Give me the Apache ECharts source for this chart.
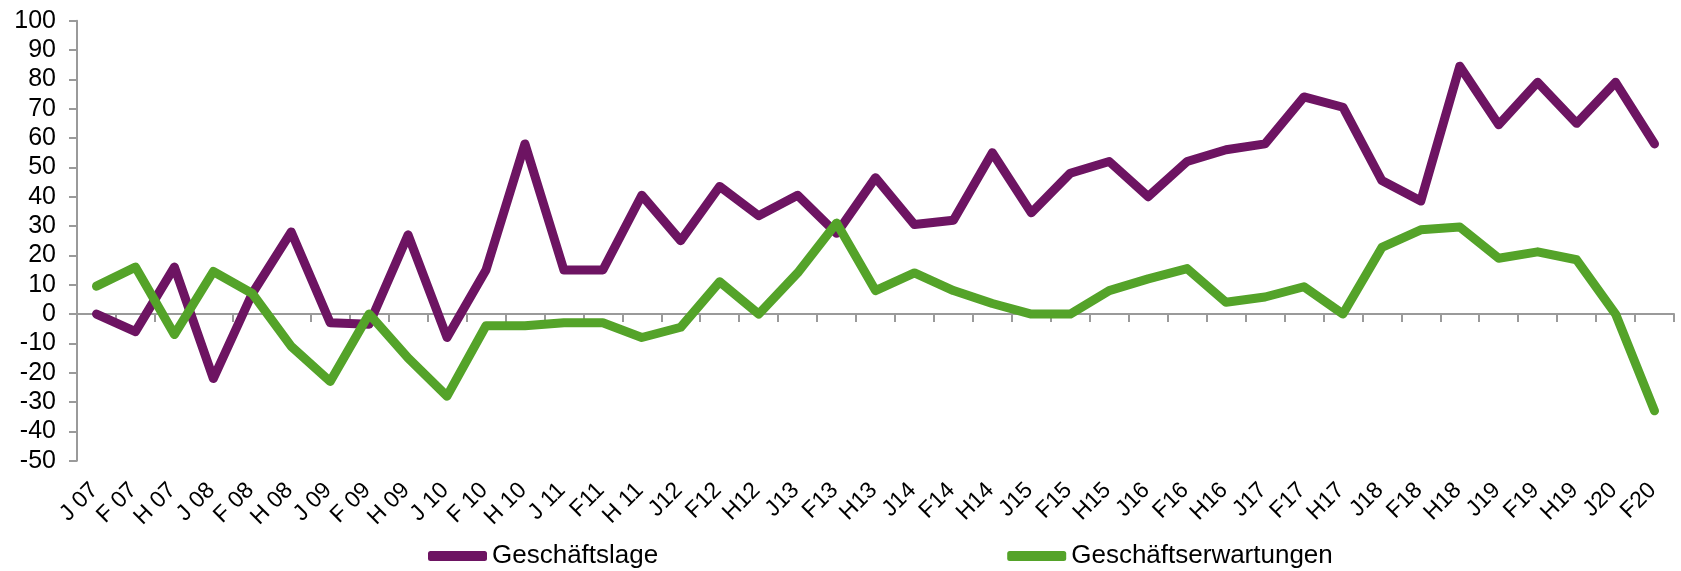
<!DOCTYPE html>
<html>
<head>
<meta charset="utf-8">
<script src="https://cdn.jsdelivr.net/npm/echarts@6/dist/echarts.min.js"></script>
<style>
  html, body { margin: 0; padding: 0; background: #ffffff; }
  #chart { width: 1681px; height: 571px; }
</style>
</head>
<body>
<div id="chart"></div>
<script>
// Survey periods (J = Jahresbeginn, F = Frühjahr, H = Herbst)
const categories = [
  'J 07', 'F 07', 'H 07', 'J 08', 'F 08', 'H 08', 'J 09', 'F 09', 'H 09', 'J 10',
  'F 10', 'H 10', 'J 11', 'F11', 'H 11', 'J12', 'F12', 'H12', 'J13', 'F13',
  'H13', 'J14', 'F14', 'H14', 'J15', 'F15', 'H15', 'J16', 'F16', 'H16',
  'J17', 'F17', 'H17', 'J18', 'F18', 'H18', 'J19', 'F19', 'H19', 'J20', 'F20'
];

// Saldo der Geschäftslage
const geschaeftslage = [
  0, -6, 16, -22, 7, 28, -3, -3.5, 27, -8,
  15, 58, 15, 15, 40.5, 25, 43.5, 33.5, 40.5, 27.5,
  46.5, 30.5, 32, 55, 34.5, 48, 52, 40, 52, 56,
  58, 74, 70.5, 45.5, 38.5, 84.5, 64.5, 79, 65, 79, 58
];

// Saldo der Geschäftserwartungen
const geschaeftserwartungen = [
  9.5, 16, -7, 14.5, 7, -11, -23, 0, -15, -28,
  -4, -4, -3, -3, -8, -4.5, 11, 0, 14, 31,
  8, 14, 8, 3.6, 0, 0, 8, 12, 15.5, 4,
  5.8, 9.3, 0, 22.7, 28.7, 29.7, 19, 21.2, 18.5, 0, -33
];

const yMin = -50, yMax = 100, yStep = 10;

const PURPLE = '#6d1462';
const GREEN = '#54a329';
const AXIS_GREY = '#9a9a9a';
const FONT = '"Liberation Sans", Arial, sans-serif';

// plot area
const PLOT = { left: 77, right: 7, top: 20.7, bottom: 110.3 };
// horizontal nudge of the period labels relative to the tick centres
const LABEL_SHIFT = -2;

const chart = echarts.init(document.getElementById('chart'), null, { renderer: 'canvas' });

chart.setOption({
  animation: false,
  backgroundColor: '#ffffff',
  textStyle: { fontFamily: FONT, color: '#000000' },
  grid: [
    { left: PLOT.left, right: PLOT.right, top: PLOT.top, bottom: PLOT.bottom, containLabel: false },
    { left: PLOT.left + LABEL_SHIFT, right: PLOT.right - LABEL_SHIFT, top: PLOT.top, bottom: PLOT.bottom, containLabel: false }
  ],
  legend: {
    left: 428,
    top: 543,
    padding: 0,
    itemGap: 349,
    itemWidth: 59,
    itemHeight: 10,
    icon: 'roundRect',
    textStyle: { fontFamily: FONT, fontSize: 26, lineHeight: 26, color: '#000000' },
    data: ['Geschäftslage', 'Geschäftserwartungen']
  },
  xAxis: [
    {
      // axis line and ticks on the zero line
      type: 'category',
      gridIndex: 0,
      data: categories,
      boundaryGap: true,
      axisLine: { onZero: true, lineStyle: { color: AXIS_GREY, width: 2 } },
      axisTick: { show: true, length: 8, lineStyle: { color: AXIS_GREY, width: 2 } },
      axisLabel: { show: false },
      splitLine: { show: false }
    },
    {
      // period labels along the bottom edge of the plot
      type: 'category',
      gridIndex: 1,
      data: categories,
      position: 'bottom',
      boundaryGap: true,
      axisLine: { show: false, onZero: false },
      axisTick: { show: false },
      axisLabel: {
        rotate: 45,
        margin: 26,
        interval: 0,
        fontFamily: FONT,
        fontSize: 23,
        color: '#000000'
      },
      splitLine: { show: false }
    }
  ],
  yAxis: [
    {
      type: 'value',
      gridIndex: 0,
      min: yMin,
      max: yMax,
      interval: yStep,
      axisLine: { show: true, lineStyle: { color: AXIS_GREY, width: 2 } },
      axisTick: { show: true, length: 8, lineStyle: { color: AXIS_GREY, width: 2 } },
      axisLabel: { margin: 21, fontFamily: FONT, fontSize: 25, color: '#000000' },
      splitLine: { show: false }
    },
    {
      type: 'value',
      gridIndex: 1,
      min: yMin,
      max: yMax,
      interval: yStep,
      show: false
    }
  ],
  series: [
    {
      name: 'Geschäftslage',
      type: 'line',
      xAxisIndex: 0,
      yAxisIndex: 0,
      data: geschaeftslage,
      symbol: 'none',
      color: PURPLE,
      lineStyle: { color: PURPLE, width: 9, cap: 'round', join: 'round' },
      z: 3
    },
    {
      name: 'Geschäftserwartungen',
      type: 'line',
      xAxisIndex: 0,
      yAxisIndex: 0,
      data: geschaeftserwartungen,
      symbol: 'none',
      color: GREEN,
      lineStyle: { color: GREEN, width: 9, cap: 'round', join: 'round' },
      z: 4
    }
  ]
});
</script>
</body>
</html>
